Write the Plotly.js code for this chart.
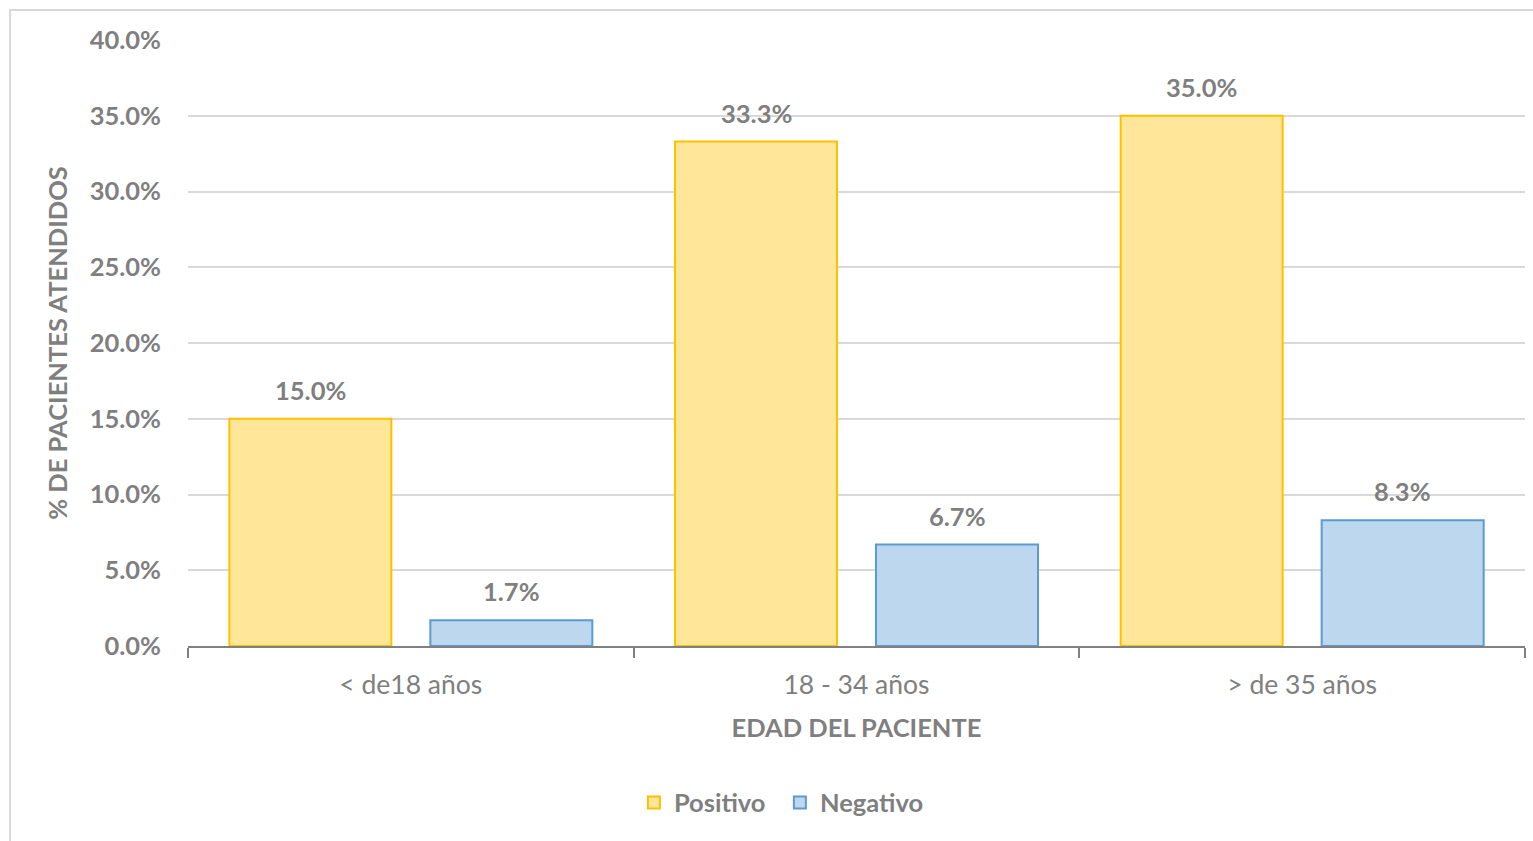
<!DOCTYPE html>
<html>
<head>
<meta charset="utf-8">
<script src="https://cdn.plot.ly/plotly-3.0.1.min.js"></script>
<style>
  html, body { margin: 0; padding: 0; background: #fff; }
  #chart { width: 1533px; height: 841px; }
</style>
</head>
<body>
<div id="chart"></div>
<script>
const categories = ["< de18 años", "18 - 34 años", "> de 35 años"];
const positivo = [0.150, 0.333, 0.350];
const negativo = [0.017, 0.067, 0.083];
const seriesNames = ["Positivo", "Negativo"];
const yTickVals = [0, 0.05, 0.10, 0.15, 0.20, 0.25, 0.30, 0.35, 0.40];

const FONT = "Lato, Open Sans, sans-serif";
const GRAY = "#7f7f7f";
const FSB = 25.5;   // bold text
const FSR = 26.5;   // regular tick labels

const fmt = v => (v * 100).toFixed(1) + "%";

const traces = [
  {
    type: "bar", name: seriesNames[0], x: categories, y: positivo, offsetgroup: "p",
    marker: { color: "#FFE699", line: { color: "#FFC000", width: 2 } }
  },
  {
    type: "bar", name: seriesNames[1], x: categories, y: negativo, offsetgroup: "n",
    marker: { color: "#BDD7EE", line: { color: "#5B9BD5", width: 2 } }
  }
];

// data labels built from the series arrays, placed via axis coordinates
const annotations = [];
const labelFont = { family: FONT, size: FSB, color: GRAY, weight: "bold" };
[positivo, negativo].forEach((series, si) => {
  series.forEach((v, i) => {
    annotations.push({
      x: categories[i], y: v, xref: "x", yref: "y",
      text: fmt(v), showarrow: false, font: labelFont,
      xshift: si === 0 ? -100.5 : 100.5, yshift: 29, yanchor: "middle"
    });
  });
});

const layout = {
  width: 1533, height: 841,
  margin: { l: 188, r: 8, t: 40, b: 195 },
  paper_bgcolor: "#fff", plot_bgcolor: "#fff",
  font: { family: FONT, color: GRAY },
  barmode: "group", bargap: 0.098, bargroupgap: 0.194,
  showlegend: true,
  legend: {
    orientation: "h", x: 0.3335, xanchor: "left", y: -0.259, yanchor: "middle",
    font: { family: FONT, size: FSB, color: GRAY, weight: "bold" },
    entrywidth: 101, entrywidthmode: "pixels",
    traceorder: "normal"
  },
  xaxis: {
    type: "category",
    showline: true, linecolor: "#808080", linewidth: 2,
    ticks: "outside", tickson: "boundaries", ticklen: 10, tickwidth: 2, tickcolor: "#808080",
    tickfont: { family: FONT, size: FSR, color: GRAY },
    ticklabelstandoff: 14,
    showgrid: false,
    title: { text: "EDAD DEL PACIENTE", font: { family: FONT, size: FSB, color: GRAY, weight: "bold" }, standoff: 20 },
    automargin: false
  },
  yaxis: {
    range: [0, 0.4], tickvals: yTickVals, tickformat: ".1%",
    showgrid: true, gridcolor: "#d9d9d9", gridwidth: 2,
    zeroline: false, showline: false, ticks: "",
    ticklabelstandoff: 26,
    tickfont: { family: FONT, size: FSB, color: GRAY, weight: "bold" },
    title: { text: "% DE PACIENTES ATENDIDOS", font: { family: FONT, size: FSB, color: GRAY, weight: "bold" }, standoff: 14 },
    automargin: false
  },
  annotations: annotations,
  shapes: [
    { type: "rect", xref: "paper", yref: "paper",
      x0: -0.1331, x1: 1.05, y0: -0.5, y1: 1.0495,
      line: { color: "#d9d9d9", width: 2 }, fillcolor: "rgba(0,0,0,0)", layer: "below" }
  ]
};

Plotly.newPlot("chart", traces, layout, { displayModeBar: false, staticPlot: true });
</script>
</body>
</html>
